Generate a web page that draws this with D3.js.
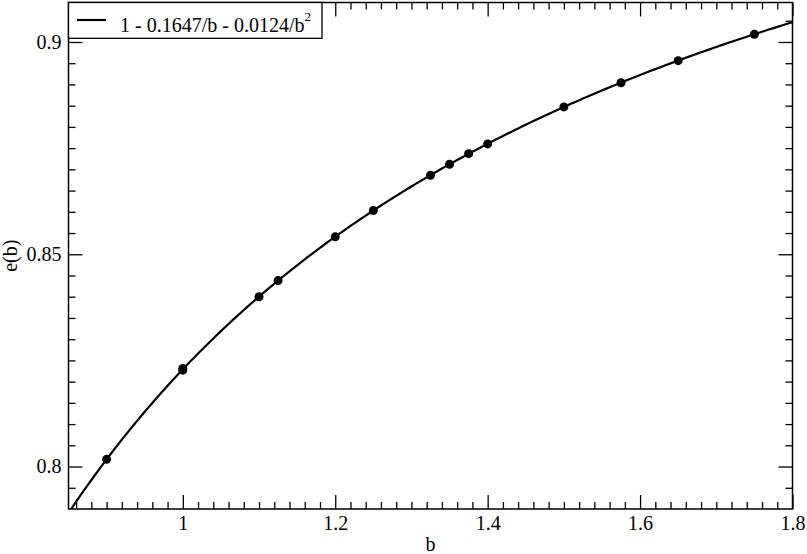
<!DOCTYPE html>
<html><head><meta charset="utf-8">
<script src="https://cdn.jsdelivr.net/npm/d3@7"></script>
<style>body{margin:0;background:#fff}svg{display:block}</style>
</head><body>
<svg id="c" width="807" height="554"></svg>
<script>
// data points
const bValues = [0.9, 1.0, 1.0, 1.1, 1.125, 1.2, 1.25, 1.325, 1.35, 1.375, 1.4, 1.5, 1.575, 1.65, 1.75];
const eValues = [0.8017, 0.8227, 0.8231, 0.8400, 0.8438, 0.8541, 0.8603, 0.8686, 0.8712, 0.8737, 0.8760, 0.8847, 0.8904, 0.8956, 0.9018];
// fit coefficients shown in the legend: c0 + c1/b + c2/b^2
const fitCoeffs = [1, -0.1647, -0.0124];
const legendLabel = "1 - 0.1647/b - 0.0124/b";
const xTicks = [1, 1.2, 1.4, 1.6, 1.8];
const yTicks = [0.8, 0.85, 0.9];

const FONT = '"Liberation Serif"';
const svg = d3.select("#c");
const L = 68.5, R = 792.5, T = 2.5, B = 509;
const x = d3.scaleLinear().domain([0.85, 1.8]).range([L, R]);
const y = d3.scaleLinear().domain([0.79, 0.9093]).range([B, T]);

const fmt = d => String(+d.toFixed(2));
const xMinor = d3.range(0.86, 1.8, 0.02).map(v => +v.toFixed(2)).filter(v => !xTicks.includes(v));
const yMinor = d3.range(0.795, 0.9093, 0.005).map(v => +v.toFixed(3)).filter(v => !yTicks.includes(v));

function axisStyle(g){
  g.attr("font-family", null).attr("font-size", null);
  g.select(".domain").remove();
  g.selectAll("line").attr("stroke","#000").attr("stroke-width",1.3);
  g.selectAll("text").attr("font-family", FONT).attr("font-size", 20).attr("fill","#000");
}

// bottom
svg.append("g").attr("transform",`translate(0,${B})`).call(d3.axisBottom(x).tickValues(xTicks).tickSize(-14).tickPadding(7).tickFormat(fmt)).call(axisStyle);
svg.append("g").attr("transform",`translate(0,${B})`).call(d3.axisBottom(x).tickValues(xMinor).tickSize(-7).tickFormat("")).call(axisStyle);
// top
svg.append("g").attr("transform",`translate(0,${T})`).call(d3.axisTop(x).tickValues(xTicks).tickSize(-14).tickFormat("")).call(axisStyle);
svg.append("g").attr("transform",`translate(0,${T})`).call(d3.axisTop(x).tickValues(xMinor).tickSize(-7).tickFormat("")).call(axisStyle);
// left
svg.append("g").attr("transform",`translate(${L},0)`).call(d3.axisLeft(y).tickValues(yTicks).tickSize(-14).tickPadding(7).tickFormat(fmt)).call(axisStyle);
svg.append("g").attr("transform",`translate(${L},0)`).call(d3.axisLeft(y).tickValues(yMinor).tickSize(-7).tickFormat("")).call(axisStyle);
// right
svg.append("g").attr("transform",`translate(${R},0)`).call(d3.axisRight(y).tickValues(yTicks).tickSize(-14).tickFormat("")).call(axisStyle);
svg.append("g").attr("transform",`translate(${R},0)`).call(d3.axisRight(y).tickValues(yMinor).tickSize(-7).tickFormat("")).call(axisStyle);

// clip
svg.append("clipPath").attr("id","clip").append("rect").attr("x",L).attr("y",T).attr("width",R-L).attr("height",B-T);

// fit curve
const fit = b => fitCoeffs[0] + fitCoeffs[1]/b + fitCoeffs[2]/(b*b);
const bs = d3.range(0.84, 1.81, 0.005);
svg.append("path").attr("clip-path","url(#clip)")
  .attr("d", d3.line().x(b=>x(b)).y(b=>y(fit(b)))(bs))
  .attr("fill","none").attr("stroke","#000").attr("stroke-width",2.2);

// points
svg.append("g").selectAll("circle").data(bValues.map((b,i)=>[b,eValues[i]])).join("circle")
  .attr("cx",d=>x(d[0])).attr("cy",d=>y(d[1])).attr("r",4.5).attr("fill","#000");

// frame
svg.append("rect").attr("x",L).attr("y",T).attr("width",R-L).attr("height",B-T)
  .attr("fill","none").attr("stroke","#000").attr("stroke-width",1.5);

// legend
const lg = svg.append("g");
lg.append("rect").attr("x",L).attr("y",T).attr("width",322-L).attr("height",38.3-T)
  .attr("fill","#fff").attr("stroke","#000").attr("stroke-width",1.3);
lg.append("line").attr("x1",77).attr("x2",106).attr("y1",20).attr("y2",20).attr("stroke","#000").attr("stroke-width",2.2);
const lt = lg.append("text").attr("x",120).attr("y",31.5).attr("font-family",FONT).attr("font-size",20);
lt.append("tspan").text(legendLabel);
lt.append("tspan").attr("dy",-11).attr("font-size",13).text("2");

// axis labels
svg.append("text").attr("x",(L+R)/2).attr("y",551).attr("text-anchor","middle").attr("font-family",FONT).attr("font-size",20).text("b");
svg.append("text").attr("transform",`translate(17,${(T+B)/2}) rotate(-90)`).attr("text-anchor","middle").attr("font-family",FONT).attr("font-size",20).text("e(b)");
</script>
</body></html>
